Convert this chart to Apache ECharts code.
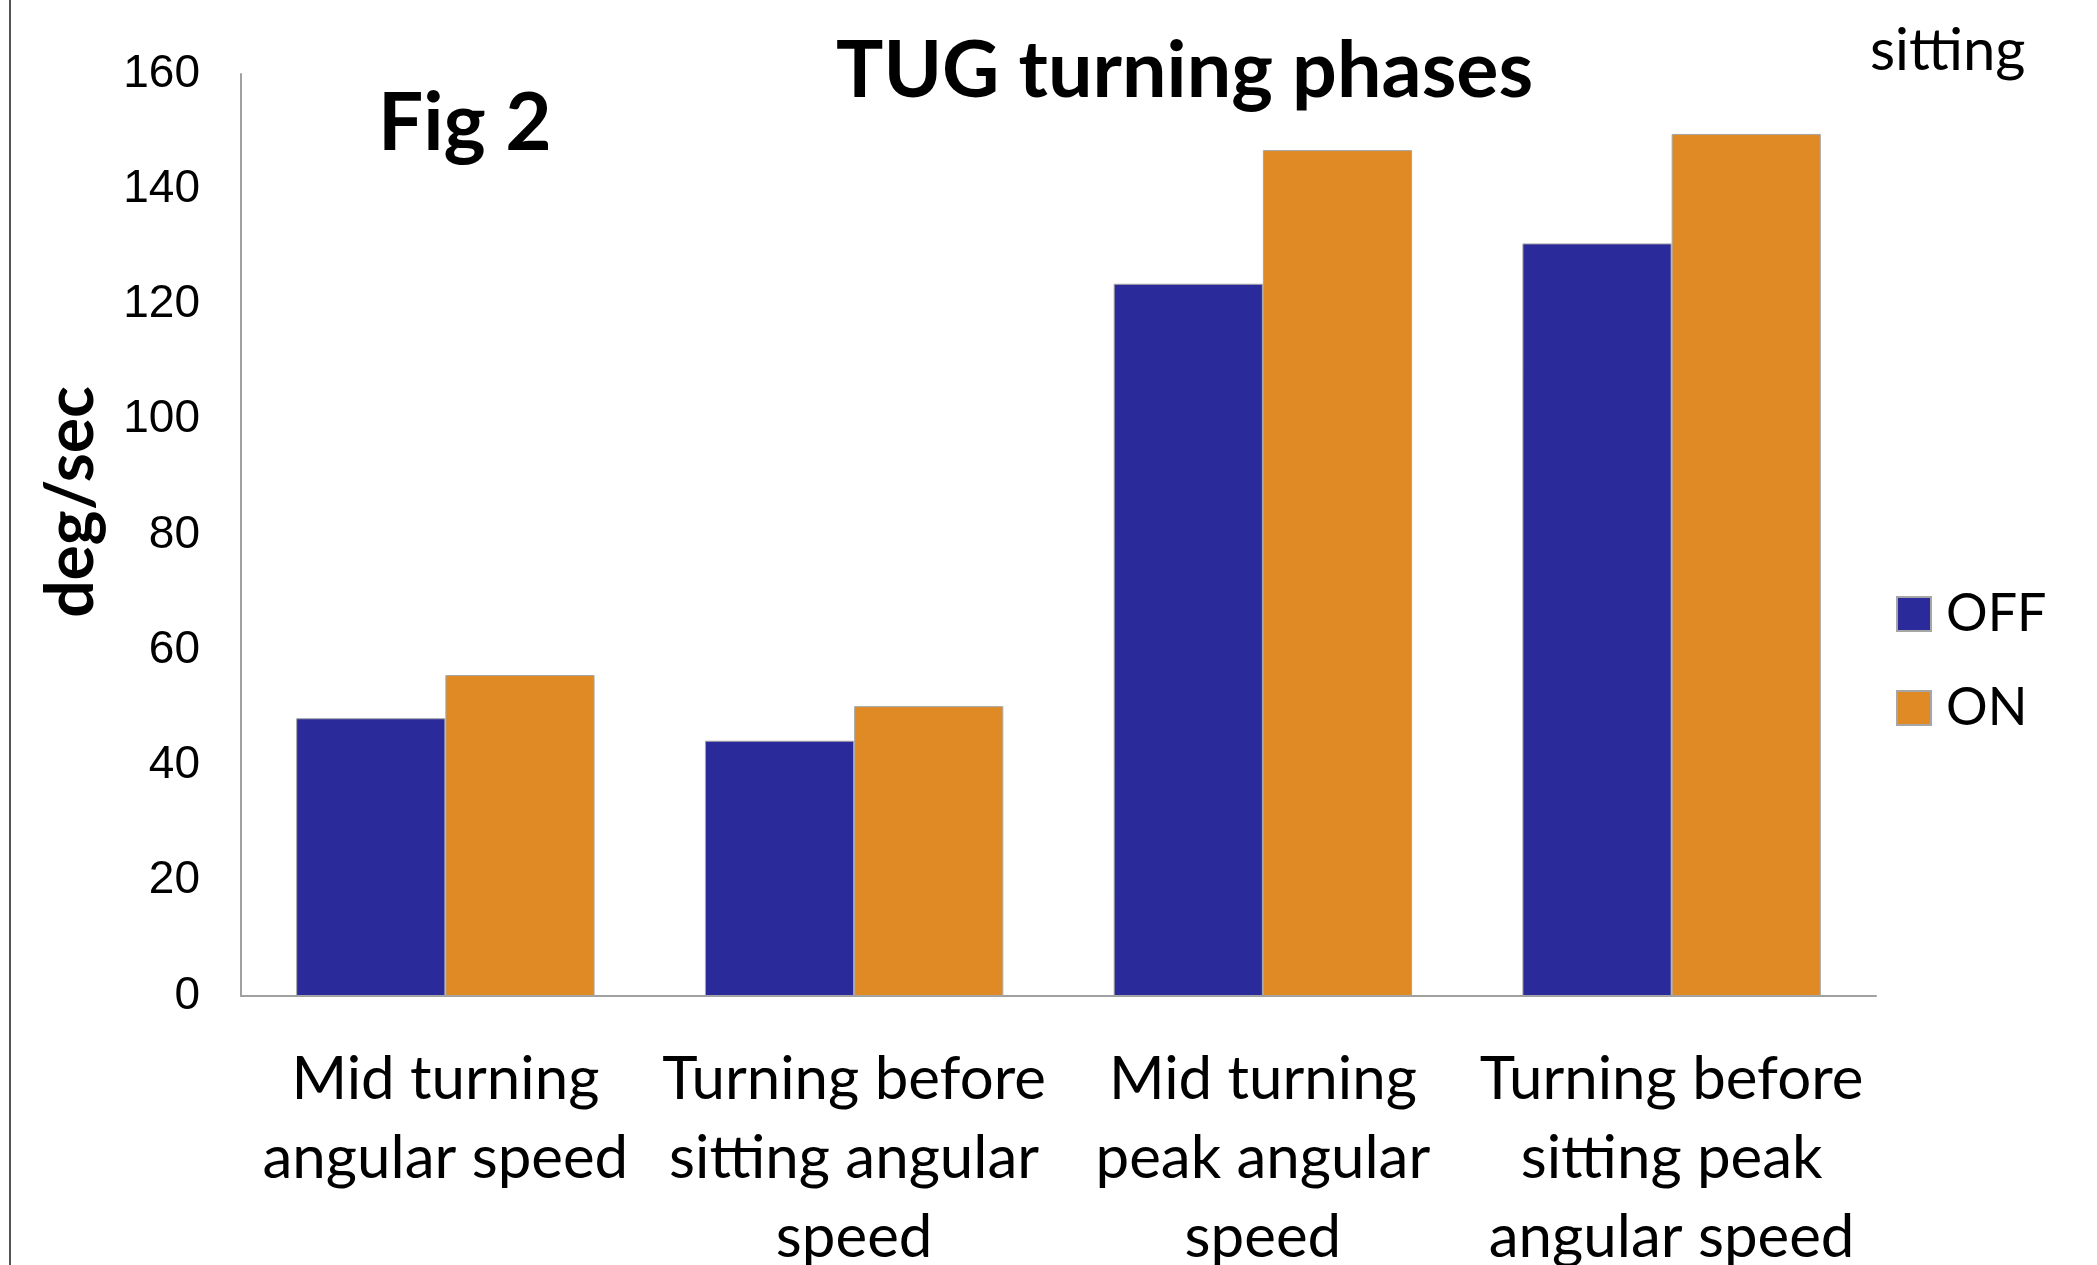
<!DOCTYPE html>
<html>
<head>
<meta charset="utf-8">
<title>TUG turning phases</title>
<script src="https://cdn.jsdelivr.net/npm/echarts@6/dist/echarts.min.js"></script>
<style>
  html, body { margin: 0; padding: 0; background: #fff; }
  #chart { width: 2097px; height: 1265px; }
</style>
</head>
<body>
<div id="chart"></div>
<script>
// categories (x axis)
const categories = [
  'Mid turning\nangular speed',
  'Turning before\nsitting angular\nspeed',
  'Mid turning\npeak angular\nspeed',
  'Turning before\nsitting peak\nangular speed'
]
// deg/sec
const offValues = [48.2, 44.3, 123.6, 130.6]
const onValues = [55.7, 50.3, 146.8, 149.6]
const seriesNames = ['OFF', 'ON']
const yTicks = { min: 0, max: 160, step: 20 }

const chart = echarts.init(document.getElementById('chart'))

const barStyle = (color) => ({
  color: color,
  borderColor: '#a6a6a6',
  borderWidth: 1
})

chart.setOption({
  animation: false,
  backgroundColor: '#fff',
  grid: {
    left: 241,
    right: 221,
    top: 74,
    bottom: 269,
    containLabel: false,
    outerBoundsMode: 'none'
  },
  legend: {
    orient: 'vertical',
    left: 1891,
    top: 583,
    icon: 'rect',
    itemWidth: 34,
    itemHeight: 34,
    itemGap: 42,
    data: seriesNames,
    textStyle: {
      fontFamily: 'Lato',
      fontSize: 52,
      color: '#000',
      padding: [0, 0, 0, 10]
    }
  },
  xAxis: {
    type: 'category',
    data: categories,
    axisLine: { show: true, lineStyle: { color: '#a0a0a0', width: 2 } },
    axisTick: { show: false },
    axisLabel: {
      interval: 0,
      margin: 44,
      fontFamily: 'Lato',
      fontSize: 60,
      lineHeight: 79,
      color: '#000'
    }
  },
  yAxis: {
    type: 'value',
    min: yTicks.min,
    max: yTicks.max,
    interval: yTicks.step,
    axisLine: { show: true, lineStyle: { color: '#a0a0a0', width: 2 } },
    axisTick: { show: false },
    splitLine: { show: false },
    axisLabel: {
      margin: 41,
      fontFamily: 'Liberation Sans',
      fontSize: 46,
      color: '#000'
    }
  },
  series: [
    {
      name: seriesNames[0],
      type: 'bar',
      data: offValues,
      barGap: '0%',
      barCategoryGap: '27%',
      itemStyle: barStyle('#2b2a9a')
    },
    {
      name: seriesNames[1],
      type: 'bar',
      data: onValues,
      barGap: '0%',
      barCategoryGap: '27%',
      itemStyle: barStyle('#e08a25')
    }
  ],
  graphic: [
    // frame line on the left
    {
      type: 'line',
      shape: { x1: 10, y1: 0, x2: 10, y2: 1265 },
      style: { stroke: '#555', lineWidth: 2 }
    },
    {
      type: 'text',
      x: 836,
      y: 72,
      style: {
        text: 'TUG turning phases',
        font: 'bold 79px Lato',
        fill: '#000',
        textAlign: 'left',
        textVerticalAlign: 'middle'
      }
    },
    {
      type: 'text',
      x: 378,
      y: 124,
      style: {
        text: 'Fig 2',
        font: 'bold 80px Lato',
        fill: '#000',
        textAlign: 'left',
        textVerticalAlign: 'middle'
      }
    },
    {
      type: 'text',
      x: 1870,
      y: 51,
      style: {
        text: 'sitting',
        font: '58px Lato',
        fill: '#000',
        textAlign: 'left',
        textVerticalAlign: 'middle'
      }
    },
    {
      type: 'text',
      x: 72,
      y: 502,
      rotation: Math.PI / 2,
      style: {
        text: 'deg/sec',
        font: 'bold 66px Lato',
        fill: '#000',
        textAlign: 'center',
        textVerticalAlign: 'middle'
      }
    }
  ]
})
</script>
</body>
</html>
